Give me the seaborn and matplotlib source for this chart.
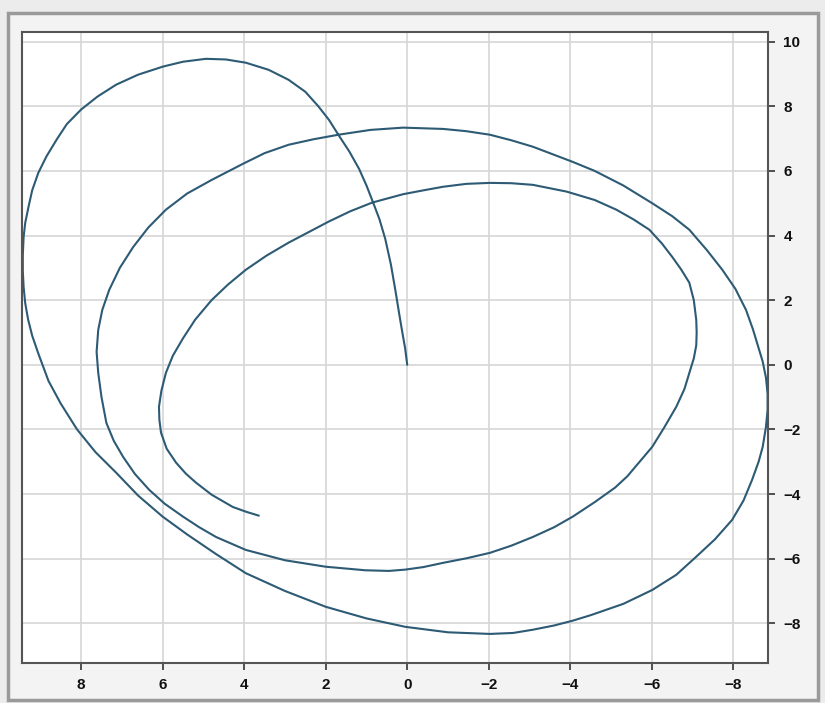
import pandas as pd
import seaborn as sns
import matplotlib.pyplot as plt
from matplotlib.patches import Rectangle

# Trajectory points, in drawing order (outer loop first)
x_vals = [0.0, 0.05, 0.12, 0.2, 0.29, 0.4, 0.54, 0.68, 0.83, 1.0, 1.18, 1.42,
          1.69, 1.92, 2.18, 2.5, 2.91, 3.4, 3.96, 4.45, 4.94, 5.5, 5.99, 6.6,
          7.14, 7.6, 8.0, 8.35, 8.6, 8.85, 9.05, 9.2, 9.29, 9.37, 9.41, 9.43,
          9.43, 9.41, 9.37, 9.3, 9.2, 9.05, 8.8, 8.5, 8.1, 7.65, 7.14, 6.6,
          6.0, 5.4, 4.7, 3.96, 3.0, 2.0, 1.0, 0.05, -1.0, -2.03, -2.6, -3.08,
          -3.6, -4.06, -4.5, -5.3, -6.01, -6.6, -7.09, -7.55, -7.97, -8.25,
          -8.46, -8.62, -8.72, -8.8, -8.84, -8.84, -8.8, -8.72, -8.6, -8.48,
          -8.31, -8.05, -7.73, -7.35, -6.92, -6.5, -6.01, -5.3, -4.6, -4.06,
          -3.6, -3.08, -2.55, -2.03, -1.45, -0.88, 0.1, 0.9, 1.69, 2.3, 2.91,
          3.5, 4.03, 4.8, 5.4, 5.92, 6.35, 6.72, 7.05, 7.31, 7.48, 7.58, 7.62,
          7.58, 7.5, 7.38, 7.2, 6.97, 6.68, 6.33, 5.95, 5.5, 5.1, 4.69, 3.96,
          3.0, 2.0, 1.03, 0.45, 0.05, -0.4, -0.88, -1.45, -2.03, -2.55, -3.08,
          -3.6, -4.06, -4.6, -5.1, -5.4, -5.7, -6.01, -6.3, -6.6, -6.8, -6.92,
          -7.03, -7.09, -7.1, -7.09, -7.03, -6.92, -6.72, -6.5, -6.25, -5.94,
          -5.55, -5.13, -4.6, -3.91, -3.08, -2.55, -2.03, -1.45, -0.88, -0.4,
          0.1, 0.86, 1.4, 1.93, 2.4, 2.91, 3.45, 3.96, 4.4, 4.8, 5.2, 5.5, 5.75,
          5.92, 6.03, 6.09, 6.08, 6.04, 5.9, 5.67, 5.43, 5.18, 4.8, 4.28, 3.95,
          3.64]
y_vals = [0.0, 0.5, 1.0, 1.6, 2.3, 3.1, 3.9, 4.5, 5.0, 5.55, 6.06, 6.6,
          7.12, 7.58, 8.0, 8.45, 8.82, 9.13, 9.35, 9.45, 9.47, 9.38, 9.23, 8.98,
          8.67, 8.3, 7.9, 7.45, 6.97, 6.45, 5.94, 5.4, 4.89, 4.4, 3.96, 3.4,
          2.9, 2.4, 1.9, 1.4, 0.9, 0.35, -0.5, -1.2, -2.0, -2.7, -3.34, -4.05,
          -4.7, -5.25, -5.85, -6.45, -7.0, -7.49, -7.85, -8.11, -8.28, -8.33,
          -8.3, -8.2, -8.07, -7.92, -7.75, -7.4, -6.97, -6.5, -5.94, -5.4,
          -4.8, -4.2, -3.56, -3.0, -2.54, -1.92, -1.4, -0.9, -0.4, 0.1, 0.6,
          1.1, 1.7, 2.35, 2.94, 3.55, 4.18, 4.6, 5.0, 5.55, 6.0, 6.28, 6.5,
          6.75, 6.95, 7.12, 7.23, 7.3, 7.34, 7.27, 7.12, 6.98, 6.81, 6.55,
          6.22, 5.72, 5.3, 4.8, 4.25, 3.65, 3.0, 2.32, 1.7, 1.08, 0.4, -0.25,
          -1.0, -1.8, -2.35, -2.85, -3.38, -3.87, -4.3, -4.7, -5.03, -5.33,
          -5.73, -6.05, -6.25, -6.36, -6.38, -6.34, -6.26, -6.13, -5.99, -5.82,
          -5.6, -5.33, -5.03, -4.7, -4.25, -3.8, -3.45, -3.0, -2.54, -1.95,
          -1.3, -0.75, -0.25, 0.2, 0.6, 1.0, 1.39, 2.0, 2.54, 2.95, 3.34, 3.75,
          4.18, 4.5, 4.8, 5.1, 5.36, 5.57, 5.62, 5.63, 5.6, 5.51, 5.4, 5.28,
          5.02, 4.75, 4.43, 4.12, 3.78, 3.38, 2.94, 2.48, 2.0, 1.4, 0.82, 0.28,
          -0.25, -0.8, -1.3, -1.7, -2.1, -2.6, -3.03, -3.37, -3.65, -4.02,
          -4.4, -4.55, -4.67]
x_ticks = [8, 6, 4, 2, 0, -2, -4, -6, -8]
y_ticks = [10, 8, 6, 4, 2, 0, -2, -4, -6, -8]

df = pd.DataFrame({'x': x_vals, 'y': y_vals})

sns.set_theme(style='whitegrid')
plt.rcParams['font.family'] = ['Liberation Sans', 'DejaVu Sans']

fig = plt.figure(figsize=(8.25, 7.03), dpi=100, facecolor='#ececec')
# window panel behind the plot
panel = Rectangle((8 / 825, 3 / 703), 810 / 825, 687 / 703,
                  transform=fig.transFigure, facecolor='#f3f3f3',
                  edgecolor='#9a9a9a', linewidth=2.5, zorder=-10)
fig.add_artist(panel)
ax = fig.add_axes([22 / 825, 1 - 663 / 703, 746 / 825, 631 / 703])
ax.set_zorder(5)
ax.set_facecolor('white')

sns.lineplot(data=df, x='x', y='y', sort=False, estimator=None, ax=ax,
             color='#2d5a74', linewidth=1.5)

ax.set_xlim(9.45, -8.85)
ax.set_ylim(-9.23, 10.3)
ax.set_xticks(x_ticks)
ax.set_yticks(y_ticks)
ax.yaxis.tick_right()
ax.set_xlabel('')
ax.set_ylabel('')
ax.grid(True, color='#d6d6d6', linewidth=1.2)
for side in ax.spines.values():
    side.set_color('#555555')
    side.set_linewidth(1.5)
ax.tick_params(axis='both', which='both', length=5, width=1.2, color='#333333',
               labelsize=11, labelcolor='#111111', pad=6,
               bottom=True, right=True, left=False, top=False)
for lbl in ax.get_xticklabels() + ax.get_yticklabels():
    lbl.set_fontweight('bold')

fig.savefig('out.png', dpi=100, facecolor=fig.get_facecolor())
